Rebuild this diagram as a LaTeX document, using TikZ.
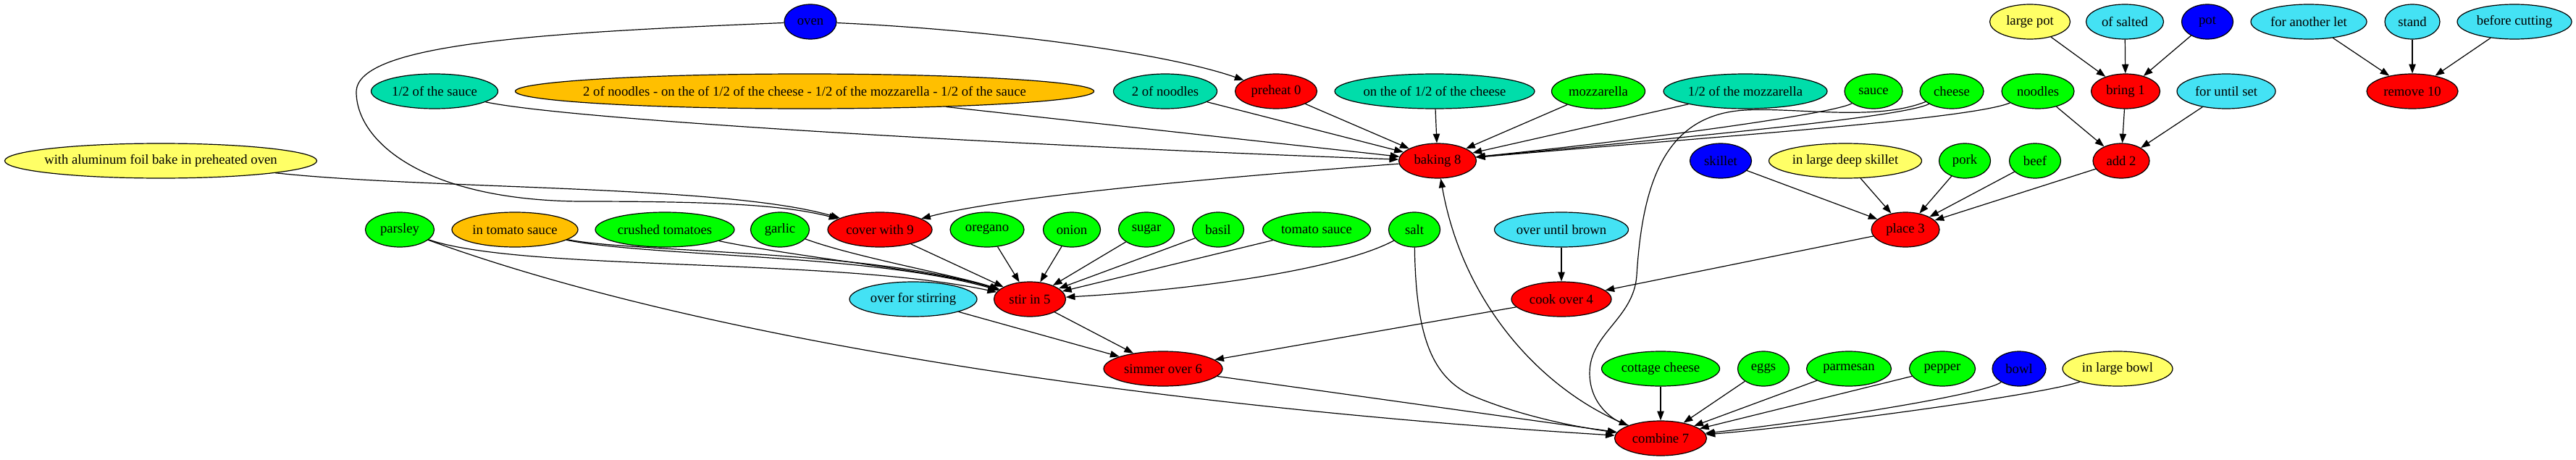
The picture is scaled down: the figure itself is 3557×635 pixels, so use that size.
\documentclass[tikz,border=0pt]{standalone}
\usepackage{fontspec}
\setmainfont{Liberation Serif}
\usetikzlibrary{shapes.geometric,arrows.meta}
\definecolor{gred}{HTML}{FF0000}
\definecolor{ggreen}{HTML}{00FF00}
\definecolor{gblue}{HTML}{0000FF}
\definecolor{gyellow}{HTML}{FFFF66}
\definecolor{gcyan}{HTML}{44E2F4}
\definecolor{gteal}{HTML}{00DDAA}
\definecolor{gorange}{HTML}{FFBF00}
\newcommand{\gvl}[1]{\makebox[0pt]{#1}}
\begin{document}
\begin{tikzpicture}[x=0.75pt,y=-0.75pt,
  nd/.style={ellipse,draw,line width=0.9pt,inner sep=0pt,minimum height=36pt,font=\fontsize{14pt}{16pt}\selectfont},
  rd/.style={nd,fill=gred},
  gn/.style={nd,fill=ggreen},
  bl/.style={nd,fill=gblue},
  yl/.style={nd,fill=gyellow},
  cy/.style={nd,fill=gcyan},
  tl/.style={nd,fill=gteal},
  og/.style={nd,fill=gorange},
  e/.style={line width=0.9pt,-{Triangle[length=9.5pt,width=7pt]}}]
\useasboundingbox (0,0) rectangle (3557,635);

% rank A
\node[bl,minimum width=54pt] (oven) at (1119,30) {\gvl{oven}};
\node[yl,minimum width=83.25pt] (largepot) at (2803,30) {\gvl{large pot}};
\node[cy,minimum width=80.25pt] (ofsalted) at (2934,30) {\gvl{of salted}};
\node[bl,minimum width=53.25pt] (pot) at (3048,30) {\gvl{pot}};
\node[cy,minimum width=120pt] (anotherlet) at (3188,30) {\gvl{for another let}};
\node[cy,minimum width=57pt] (stand) at (3331,30) {\gvl{stand}};
\node[cy,minimum width=118.5pt] (beforecutting) at (3472,30) {\gvl{before cutting}};

% rank B
\node[tl,minimum width=131.25pt] (halfsauce) at (600,126) {\gvl{1/2 of the sauce}};
\node[og,minimum width=599.25pt] (longorange) at (1111,126) {\gvl{2 of noodles - on the of 1/2 of the cheese - 1/2 of the mozzarella - 1/2 of the sauce}};
\node[tl,minimum width=107.25pt] (twonoodles) at (1609,126) {\gvl{2 of noodles}};
\node[rd,minimum width=84.75pt] (preheat) at (1762,126) {\gvl{preheat 0}};
\node[tl,minimum width=207pt] (ontheof) at (1981,126) {\gvl{on the of 1/2 of the cheese}};
\node[gn,minimum width=96.75pt] (mozzarella) at (2207,126) {\gvl{mozzarella}};
\node[tl,minimum width=169.5pt] (halfmozz) at (2410,126) {\gvl{1/2 of the mozzarella}};
\node[gn,minimum width=60pt] (sauce) at (2587,126) {\gvl{sauce}};
\node[gn,minimum width=66pt] (cheese) at (2695,126) {\gvl{cheese}};
\node[gn,minimum width=75pt] (noodles) at (2814,126) {\gvl{noodles}};
\node[rd,minimum width=71.25pt] (bring) at (2935,126) {\gvl{bring 1}};
\node[cy,minimum width=102pt] (untilset) at (3074,126) {\gvl{for until set}};
\node[rd,minimum width=94.5pt] (remove) at (3331,126) {\gvl{remove 10}};

% rank C
\node[yl,minimum width=323.25pt] (foil) at (222,222) {\gvl{with aluminum foil bake in preheated oven}};
\node[rd,minimum width=80.25pt] (baking) at (1985,222) {\gvl{baking 8}};
\node[bl,minimum width=63.75pt] (skillet) at (2376,222) {\gvl{skillet}};
\node[yl,minimum width=158.25pt] (deepskillet) at (2548,222) {\gvl{in large deep skillet}};
\node[gn,minimum width=53.25pt] (pork) at (2713,222) {\gvl{pork}};
\node[gn,minimum width=53.25pt] (beef) at (2810,222) {\gvl{beef}};
\node[rd,minimum width=58.5pt] (add) at (2929,222) {\gvl{add 2}};

% rank D
\node[gn,minimum width=71.25pt] (parsley) at (552,317) {\gvl{parsley}};
\node[og,minimum width=130.5pt] (intomato) at (711,317) {\gvl{in tomato sauce}};
\node[gn,minimum width=144pt] (crushed) at (918,317) {\gvl{crushed tomatoes}};
\node[gn,minimum width=60.75pt] (garlic) at (1077,317) {\gvl{garlic}};
\node[rd,minimum width=108pt] (cover) at (1215,317) {\gvl{cover with 9}};
\node[gn,minimum width=76.5pt] (oregano) at (1363,317) {\gvl{oregano}};
\node[gn,minimum width=59.25pt] (onion) at (1480,317) {\gvl{onion}};
\node[gn,minimum width=57.75pt] (sugar) at (1583,317) {\gvl{sugar}};
\node[gn,minimum width=53.25pt] (basil) at (1682,317) {\gvl{basil}};
\node[gn,minimum width=111.75pt] (tomatosauce) at (1818,317) {\gvl{tomato sauce}};
\node[gn,minimum width=53.25pt] (salt) at (1953,317) {\gvl{salt}};
\node[cy,minimum width=138.75pt] (untilbrown) at (2156,317) {\gvl{over until brown}};
\node[rd,minimum width=70.5pt] (place) at (2631,317) {\gvl{place 3}};

% rank E
\node[cy,minimum width=132pt] (stirring) at (1261,413) {\gvl{over for stirring}};
\node[rd,minimum width=74.25pt] (stir) at (1422,413) {\gvl{stir in 5}};
\node[rd,minimum width=103.5pt] (cook) at (2156,413) {\gvl{cook over 4}};

% rank F
\node[rd,minimum width=123pt] (simmer) at (1606,509) {\gvl{simmer over 6}};
\node[gn,minimum width=122.25pt] (cottage) at (2293,509) {\gvl{cottage cheese}};
\node[gn,minimum width=53.25pt] (eggs) at (2435,509) {\gvl{eggs}};
\node[gn,minimum width=87.75pt] (parmesan) at (2553,509) {\gvl{parmesan}};
\node[gn,minimum width=68.25pt] (pepper) at (2682,509) {\gvl{pepper}};
\node[bl,minimum width=55.5pt] (bowl) at (2788,509) {\gvl{bowl}};
\node[yl,minimum width=114pt] (largebowl) at (2924,509) {\gvl{in large bowl}};

% rank G
\node[rd,minimum width=95.25pt] (combine) at (2293,605) {\gvl{combine 7}};

% edges
\draw[e] (oven) .. controls (1350,40) and (1600,70) .. (preheat);
\draw[e] (oven) .. controls (750,45) and (492,60) .. (492,127) .. controls (492,195) and (585,276) .. (800,278) .. controls (980,278) and (1080,282) .. (cover);
\draw[e] (foil) .. controls (600,262) and (1000,255) .. (cover);

\draw[e] (halfsauce) .. controls (800,168) and (1500,205) .. (baking);
\draw[e] (longorange) -- (baking);
\draw[e] (twonoodles) -- (baking);
\draw[e] (preheat) -- (baking);
\draw[e] (ontheof) -- (baking);
\draw[e] (mozzarella) -- (baking);
\draw[e] (halfmozz) -- (baking);
\draw[e] (sauce) .. controls (2530,158) and (2250,195) .. (baking);
\draw[e] (cheese) .. controls (2630,162) and (2300,192) .. (baking);
\draw[e] (noodles) .. controls (2720,165) and (2350,190) .. (baking);
\draw[e] (combine) .. controls (2130,540) and (2020,420) .. (baking);
\draw[e] (cheese) .. controls (2590,168) and (2480,148) .. (2410,152) .. controls (2300,158) and (2268,250) .. (2260,380) .. controls (2256,440) and (2195,460) .. (2195,515) .. controls (2195,560) and (2230,580) .. (combine);
\draw[e] (baking) .. controls (1750,240) and (1400,268) .. (cover);

\draw[e] (largepot) -- (bring);
\draw[e] (ofsalted) -- (bring);
\draw[e] (pot) -- (bring);
\draw[e] (noodles) -- (add);
\draw[e] (bring) -- (add);
\draw[e] (untilset) -- (add);
\draw[e] (anotherlet) -- (remove);
\draw[e] (stand) -- (remove);
\draw[e] (beforecutting) -- (remove);

\draw[e] (skillet) -- (place);
\draw[e] (deepskillet) -- (place);
\draw[e] (pork) -- (place);
\draw[e] (beef) -- (place);
\draw[e] (add) -- (place);

\draw[e] (untilbrown) -- (cook);
\draw[e] (place) -- (cook);

\draw[e] (parsley) .. controls (720,375) and (1150,355) .. (stir);
\draw[e] (intomato) .. controls (900,355) and (1200,350) .. (stir);
\draw[e] (intomato) .. controls (880,349) and (1200,345) .. (stir);
\draw[e] (crushed) .. controls (1100,355) and (1300,375) .. (stir);
\draw[e] (garlic) .. controls (1180,355) and (1320,380) .. (stir);
\draw[e] (cover) -- (stir);
\draw[e] (oregano) -- (stir);
\draw[e] (onion) -- (stir);
\draw[e] (sugar) -- (stir);
\draw[e] (basil) -- (stir);
\draw[e] (tomatosauce) -- (stir);
\draw[e] (salt) .. controls (1850,372) and (1650,400) .. (stir);

\draw[e] (stirring) -- (simmer);
\draw[e] (stir) -- (simmer);
\draw[e] (cook) -- (simmer);

\draw[e] (parsley) .. controls (1000,480) and (1650,565) .. (combine);
\draw[e] (simmer) -- (combine);
\draw[e] (salt) .. controls (1955,470) and (1980,520) .. (2030,545) .. controls (2100,575) and (2180,590) .. (combine);
\draw[e] (cottage) -- (combine);
\draw[e] (eggs) -- (combine);
\draw[e] (parmesan) -- (combine);
\draw[e] (pepper) -- (combine);
\draw[e] (bowl) .. controls (2740,545) and (2500,582) .. (combine);
\draw[e] (largebowl) .. controls (2820,545) and (2500,588) .. (combine);
\end{tikzpicture}
\end{document}
